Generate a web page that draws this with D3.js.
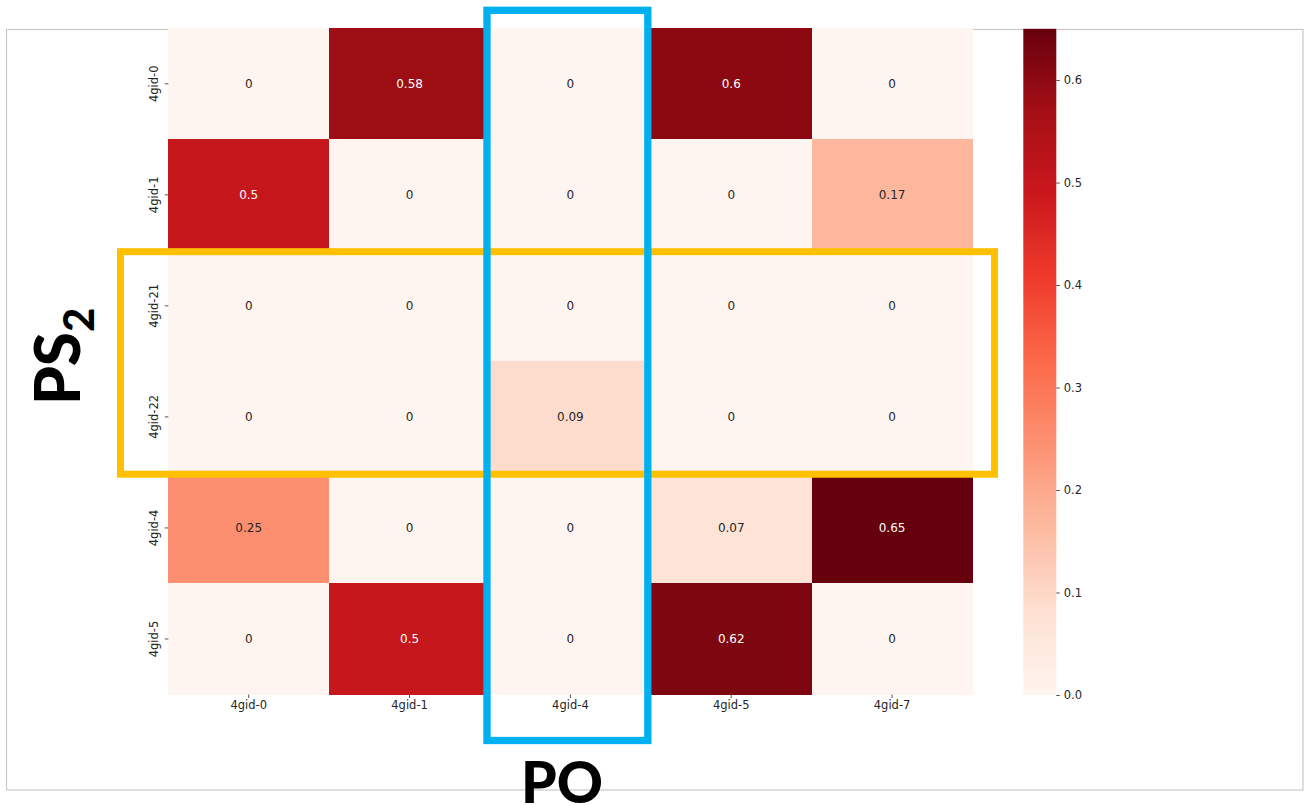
<!DOCTYPE html>
<html>
<head>
<meta charset="utf-8">
<script src="https://cdn.jsdelivr.net/npm/d3@7"></script>
<style>
  html, body { margin: 0; padding: 0; background: #ffffff; }
  svg { display: block; }
</style>
</head>
<body>
<svg id="chart" width="1306" height="805"></svg>
<script>
// Row (PS2) and column (PO) categories
const rowLabels = ["4gid-0", "4gid-1", "4gid-21", "4gid-22", "4gid-4", "4gid-5"];
const colLabels = ["4gid-0", "4gid-1", "4gid-4", "4gid-5", "4gid-7"];

// One array of cell values per row
const row4gid0  = [0, 0.58, 0, 0.6, 0];
const row4gid1  = [0.5, 0, 0, 0, 0.17];
const row4gid21 = [0, 0, 0, 0, 0];
const row4gid22 = [0, 0, 0.09, 0, 0];
const row4gid4  = [0.25, 0, 0, 0.07, 0.65];
const row4gid5  = [0, 0.5, 0, 0.62, 0];
const matrix = [row4gid0, row4gid1, row4gid21, row4gid22, row4gid4, row4gid5];

// Colour bar ticks
const colorbarTicks = [0.0, 0.1, 0.2, 0.3, 0.4, 0.5, 0.6];

// Highlighted groups
const ps2Rows = ["4gid-21", "4gid-22"];
const poCol = "4gid-4";

// Reds colormap stops (linear between stops)
const redsStops = ["#fff5f0", "#fee0d2", "#fcbba1", "#fc9272", "#fb6a4a",
                   "#ef3b2c", "#cb181d", "#a50f15", "#67000d"];

const svg = d3.select("#chart");

const cells = [];
matrix.forEach((vals, r) => vals.forEach((v, c) => cells.push({ row: rowLabels[r], col: colLabels[c], value: v })));

const vmin = 0;
const vmax = d3.max(cells, d => d.value);

const color = d3.scaleLinear()
  .domain(redsStops.map((_, i) => vmin + (vmax - vmin) * i / (redsStops.length - 1)))
  .range(redsStops)
  .interpolate(d3.interpolateRgb)
  .clamp(true);

// Plot area
const plot = { left: 168.3, right: 972.5, top: 28.3, bottom: 694.5 };

const x = d3.scaleBand().domain(colLabels).range([plot.left, plot.right]);
const y = d3.scaleBand().domain(rowLabels).range([plot.top, plot.bottom]);

// Outer frame
svg.append("rect")
  .attr("x", 6.5).attr("y", 29.5)
  .attr("width", 1296.5).attr("height", 760.5)
  .attr("fill", "none").attr("stroke", "#c9c9c9").attr("stroke-width", 1.2);

// Heatmap cells
svg.append("g").selectAll("rect").data(cells).join("rect")
  .attr("x", d => x(d.col))
  .attr("y", d => y(d.row))
  .attr("width", x.bandwidth())
  .attr("height", y.bandwidth())
  .attr("fill", d => color(d.value))
  .attr("shape-rendering", "crispEdges");

// Relative luminance, used to pick annotation text colour
function luminance(c) {
  const rgb = d3.rgb(c);
  const lin = v => { v /= 255; return v <= 0.03928 ? v / 12.92 : Math.pow((v + 0.055) / 1.055, 2.4); };
  return 0.2126 * lin(rgb.r) + 0.7152 * lin(rgb.g) + 0.0722 * lin(rgb.b);
}

svg.append("g").selectAll("text").data(cells).join("text")
  .attr("x", d => x(d.col) + x.bandwidth() / 2)
  .attr("y", d => y(d.row) + y.bandwidth() / 2)
  .attr("text-anchor", "middle")
  .attr("dominant-baseline", "central")
  .attr("font-family", "DejaVu Sans")
  .attr("font-size", 12)
  .attr("fill", d => luminance(color(d.value)) > 0.408 ? "#262626" : "#ffffff")
  .text(d => d3.format("~g")(d.value));

// Bottom axis
const xAxis = svg.append("g")
  .attr("transform", `translate(0,${plot.bottom})`)
  .call(d3.axisBottom(x).tickSize(3.5).tickPadding(3));
xAxis.select(".domain").remove();
xAxis.selectAll("line").attr("stroke", "#262626").attr("stroke-width", 0.8);
xAxis.selectAll("text")
  .attr("font-family", "DejaVu Sans").attr("font-size", 11.5).attr("fill", "#262626");

// Left axis, labels rotated
const yAxis = svg.append("g")
  .attr("transform", `translate(${plot.left},0)`)
  .call(d3.axisLeft(y).tickSize(3.5).tickPadding(3));
yAxis.select(".domain").remove();
yAxis.selectAll("line").attr("stroke", "#262626").attr("stroke-width", 0.8);
yAxis.selectAll("text")
  .attr("font-family", "DejaVu Sans").attr("font-size", 11.5).attr("fill", "#262626")
  .attr("x", null).attr("dy", null)
  .attr("text-anchor", "middle")
  .attr("transform", "translate(-10,0) rotate(-90)");

// Colour bar
const cb = { x: 1023.3, width: 33, top: 28.8, bottom: 695 };
const cbScale = d3.scaleLinear().domain([vmin, vmax]).range([cb.bottom, cb.top]);

const defs = svg.append("defs");
const grad = defs.append("linearGradient")
  .attr("id", "cbGrad").attr("x1", 0).attr("y1", 1).attr("x2", 0).attr("y2", 0);
d3.range(0, 1.0001, 0.02).forEach(t => {
  grad.append("stop").attr("offset", t).attr("stop-color", color(vmin + t * (vmax - vmin)));
});
svg.append("rect")
  .attr("x", cb.x).attr("y", cb.top)
  .attr("width", cb.width).attr("height", cb.bottom - cb.top)
  .attr("fill", "url(#cbGrad)");

const cbAxis = svg.append("g")
  .attr("transform", `translate(${cb.x + cb.width},0)`)
  .call(d3.axisRight(cbScale).tickValues(colorbarTicks).tickFormat(d3.format(".1f")).tickSize(3.5).tickPadding(4));
cbAxis.select(".domain").remove();
cbAxis.selectAll("line").attr("stroke", "#262626").attr("stroke-width", 0.8);
cbAxis.selectAll("text")
  .attr("font-family", "DejaVu Sans").attr("font-size", 11.5).attr("fill", "#262626");

// Yellow box around the PS2 rows, extended left over the tick labels
const ps2Top = y(ps2Rows[0]);
const ps2Bottom = y(ps2Rows[ps2Rows.length - 1]) + y.bandwidth();
svg.append("rect")
  .attr("x", plot.left - 47.8)
  .attr("y", ps2Top + 1.3)
  .attr("width", (plot.right + 22) - (plot.left - 47.8))
  .attr("height", (ps2Bottom + 1.8) - (ps2Top + 1.3))
  .attr("fill", "none").attr("stroke", "#ffc000").attr("stroke-width", 7);

// Blue box around the PO column, spanning top to below the tick labels
svg.append("rect")
  .attr("x", x(poCol) - 3)
  .attr("y", plot.top - 18)
  .attr("width", x.bandwidth())
  .attr("height", (plot.bottom + 46) - (plot.top - 18))
  .attr("fill", "none").attr("stroke", "#00b0f0").attr("stroke-width", 7.3);

// Group labels
svg.append("text")
  .attr("transform", "translate(80,405) rotate(-90)")
  .attr("font-family", "Lato").attr("font-weight", 900).attr("font-size", 62)
  .attr("fill", "#000")
  .call(t => {
    t.append("tspan").text("PS");
    t.append("tspan").attr("font-size", 42).attr("dy", 14).text("2");
  });

svg.append("text")
  .attr("x", 562).attr("y", 803)
  .attr("text-anchor", "middle")
  .attr("font-family", "Lato").attr("font-weight", 900).attr("font-size", 57)
  .attr("fill", "#000")
  .text("PO");
</script>
</body>
</html>
